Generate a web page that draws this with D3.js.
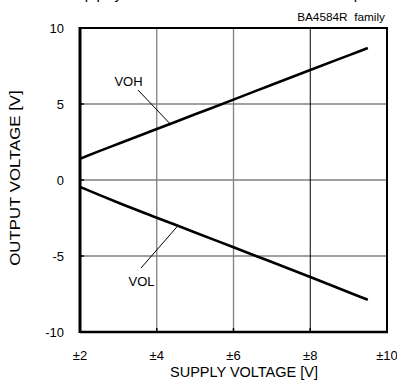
<!DOCTYPE html>
<html>
<head>
<meta charset="utf-8">
<script src="https://cdn.jsdelivr.net/npm/d3@7"></script>
<style>
  html, body { margin: 0; padding: 0; background: #fff; }
  svg { display: block; }
  text { font-family: Arial, "Liberation Sans", sans-serif; fill: #000; }
</style>
</head>
<body>
<svg id="chart" width="397" height="381"></svg>
<script>
// Supply voltage (±V) sample points
const supply = [2, 2.5, 3, 4, 5, 6, 7, 8, 9, 9.5];
// High-level output voltage [V]
const voh = [1.4, 1.9, 2.38, 3.35, 4.32, 5.29, 6.27, 7.24, 8.2, 8.68];
// Low-level output voltage [V]
const vol = [-0.45, -0.98, -1.5, -2.48, -3.45, -4.43, -5.4, -6.38, -7.38, -7.88];

const xTicks = [2, 4, 6, 8, 10];
const xTickLabels = ["±2", "±4", "±6", "±8", "±10"];
const yTicks = [-10, -5, 0, 5, 10];
const yTickLabels = ["-10", "-5", "0", "5", "10"];

const svg = d3.select("#chart");
const m = { left: 80, right: 387, top: 28, bottom: 332 };

const x = d3.scaleLinear().domain([2, 10]).range([m.left, m.right]);
const y = d3.scaleLinear().domain([-10, 10]).range([m.bottom, m.top]);

// Caption of the neighbouring figure, running off the top edge
svg.append("text")
  .attr("x", 60).attr("y", -1)
  .attr("font-size", 15)
  .attr("textLength", 302)
  .text("Supply Current – Ambient Temp");

// Grid
const g = svg.append("g");
g.selectAll(".hg").data(yTicks.filter(v => v > -10 && v < 10)).join("line")
  .attr("x1", m.left).attr("x2", m.right)
  .attr("y1", d => y(d)).attr("y2", d => y(d))
  .attr("stroke", "#808080").attr("stroke-width", 1.3);
g.selectAll(".vg").data(xTicks.filter(v => v > 2 && v < 10)).join("line")
  .attr("y1", m.top).attr("y2", m.bottom)
  .attr("x1", d => x(d)).attr("x2", d => x(d))
  .attr("stroke", d => d === 8 ? "#000" : "#808080")
  .attr("stroke-width", d => d === 8 ? 1 : 1.3);

// Short inner ticks
g.selectAll(".yt").data(yTicks).join("line")
  .attr("x1", m.left).attr("x2", m.left + 4)
  .attr("y1", d => y(d)).attr("y2", d => y(d))
  .attr("stroke", "#000").attr("stroke-width", 1.5);
g.selectAll(".xt").data(xTicks).join("line")
  .attr("y1", m.bottom).attr("y2", m.bottom - 4)
  .attr("x1", d => x(d)).attr("x2", d => x(d))
  .attr("stroke", "#000").attr("stroke-width", 1.5);

// Frame
svg.append("rect")
  .attr("x", m.left).attr("y", m.top)
  .attr("width", m.right - m.left).attr("height", m.bottom - m.top)
  .attr("fill", "none").attr("stroke", "#000").attr("stroke-width", 2);
svg.append("line")
  .attr("x1", m.left).attr("x2", m.left).attr("y1", m.top - 1).attr("y2", m.bottom + 1)
  .attr("stroke", "#000").attr("stroke-width", 3);
svg.append("line")
  .attr("x1", m.left).attr("x2", m.right + 1).attr("y1", m.bottom).attr("y2", m.bottom)
  .attr("stroke", "#000").attr("stroke-width", 2.6);

// Curves
const line = d3.line().x((d, i) => x(supply[i])).y(d => y(d)).curve(d3.curveMonotoneX);
[voh, vol].forEach(s => {
  svg.append("path").attr("d", line(s))
    .attr("fill", "none").attr("stroke", "#000").attr("stroke-width", 2.6)
    .attr("stroke-linecap", "butt");
});

// Curve labels with leaders
svg.append("line").attr("x1", 138).attr("y1", 90)
  .attr("x2", x(4.35)).attr("y2", y(d3.interpolateNumber(voh[3], voh[4])(0.35)))
  .attr("stroke", "#000").attr("stroke-width", 1);
svg.append("line").attr("x1", 141).attr("y1", 268)
  .attr("x2", x(4.55)).attr("y2", y(d3.interpolateNumber(vol[3], vol[4])(0.55)))
  .attr("stroke", "#000").attr("stroke-width", 1);
svg.append("text").attr("x", 128.5).attr("y", 85.5).attr("text-anchor", "middle")
  .attr("font-size", 13).text("VOH");
svg.append("text").attr("x", 141.5).attr("y", 285.5).attr("text-anchor", "middle")
  .attr("font-size", 13).text("VOL");

// Tick labels
svg.selectAll(".yl").data(yTicks).join("text")
  .attr("x", 64).attr("y", d => y(d) + 4.8)
  .attr("text-anchor", "end").attr("font-size", 13)
  .text((d, i) => yTickLabels[i]);
svg.selectAll(".xl").data(xTicks).join("text")
  .attr("x", d => x(d)).attr("y", 359.5)
  .attr("text-anchor", "middle").attr("font-size", 13)
  .text((d, i) => xTickLabels[i]);

// Axis titles
svg.append("text").attr("x", 244).attr("y", 377)
  .attr("text-anchor", "middle").attr("font-size", 14.5)
  .text("SUPPLY VOLTAGE [V]");
svg.append("text")
  .attr("transform", "translate(19.5,178) rotate(-90) scale(1.2,1)")
  .attr("text-anchor", "middle").attr("font-size", 14)
  .text("OUTPUT VOLTAGE [V]");

svg.append("text").attr("x", 385).attr("y", 20.5)
  .attr("text-anchor", "end").attr("font-size", 11.8)
  .attr("xml:space", "preserve")
  .text("BA4584R  family");
</script>
</body>
</html>
